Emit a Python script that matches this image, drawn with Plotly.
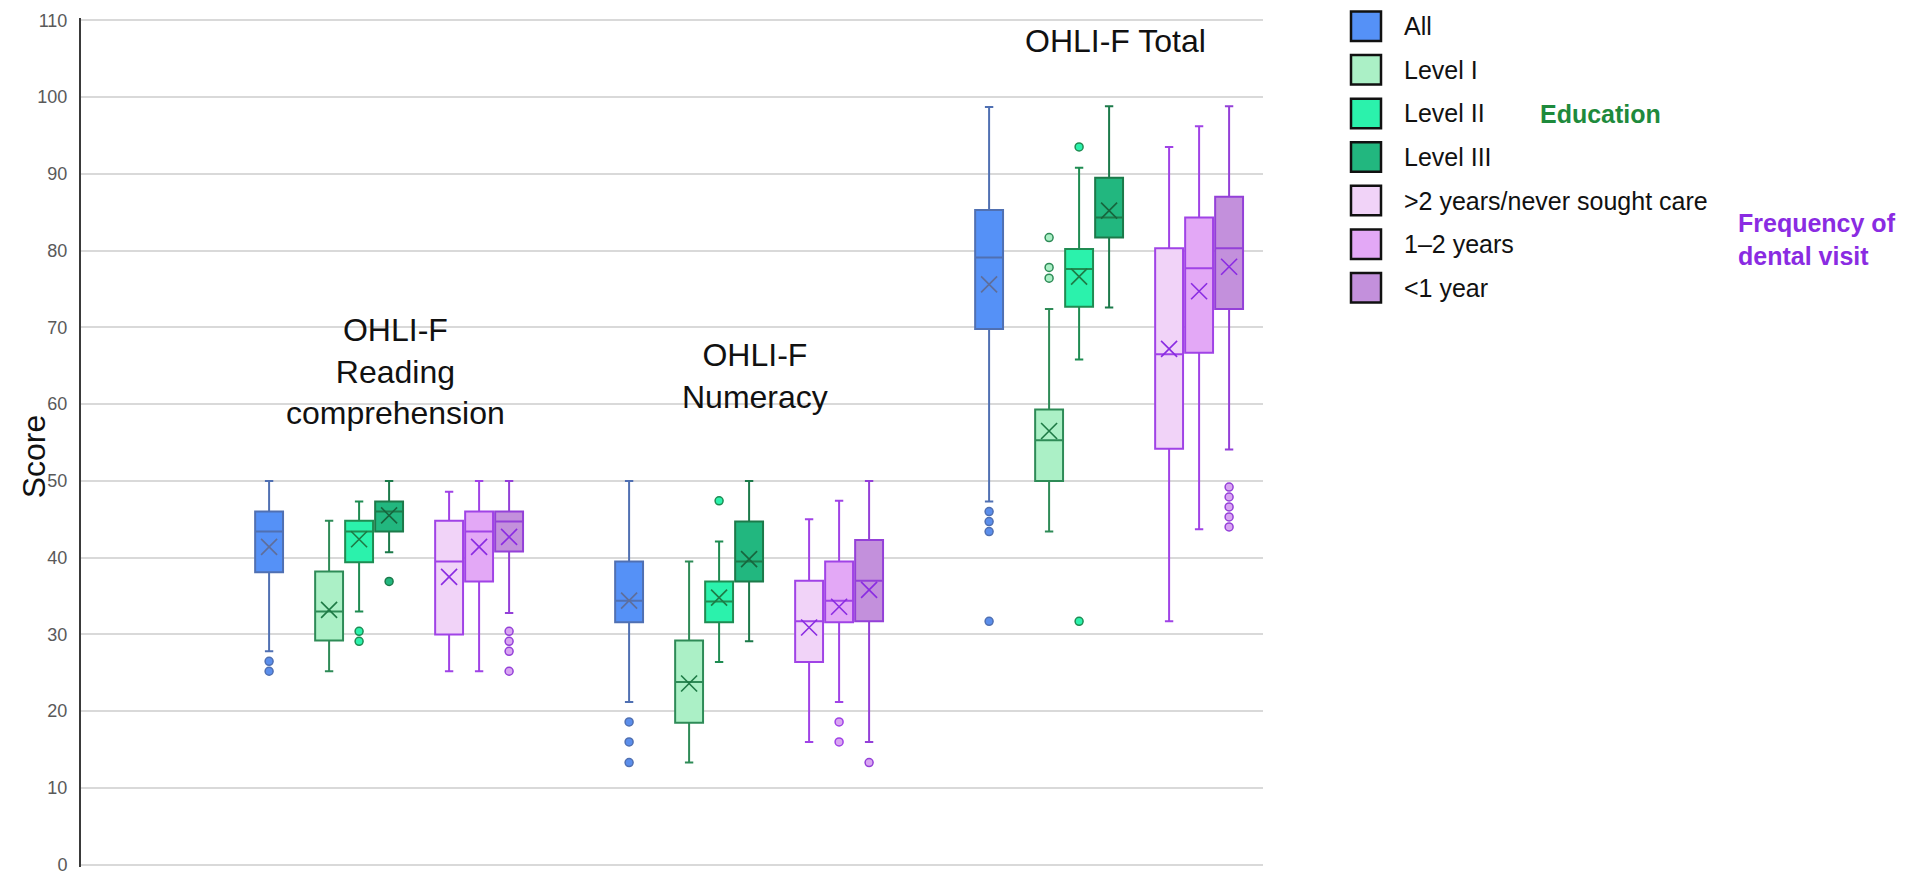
import plotly.graph_objects as go

# OHLI-F scores: three measures, seven groups (all / education / dental visit frequency)
measures = ["Reading comprehension", "Numeracy", "Total"]
titles = ["OHLI-F<br>Reading<br>comprehension", "OHLI-F<br>Numeracy", "OHLI-F Total"]

categories = ["All", "Level I", "Level II", "Level III",
              "&gt;2 years/never sought care", "1–2 years", "&lt;1 year"]

# one row per category, columns = reading, numeracy, total
lowerfence = [
    [27.8, 21.2, 47.3],
    [25.2, 13.3, 43.4],
    [33.0, 26.4, 65.8],
    [40.7, 29.1, 72.6],
    [25.2, 16.0, 31.7],
    [25.2, 21.2, 43.7],
    [32.8, 16.0, 54.1],
]
q1 = [
    [38.1, 31.6, 69.8],
    [29.2, 18.5, 50.0],
    [39.4, 31.6, 72.7],
    [43.4, 36.9, 81.7],
    [30.0, 26.4, 54.2],
    [36.9, 31.6, 66.7],
    [40.8, 31.7, 72.4],
]
median = [
    [43.4, 34.4, 79.1],
    [33.0, 23.8, 55.3],
    [43.4, 34.3, 77.6],
    [46.0, 39.5, 84.3],
    [39.5, 31.7, 66.5],
    [43.4, 34.4, 77.7],
    [44.7, 37.0, 80.3],
]
q3 = [
    [46.0, 39.5, 85.3],
    [38.2, 29.2, 59.3],
    [44.8, 36.9, 80.2],
    [47.3, 44.7, 89.5],
    [44.8, 37.0, 80.3],
    [46.0, 39.5, 84.3],
    [46.0, 42.3, 87.0],
]
upperfence = [
    [50.0, 50.0, 98.7],
    [44.8, 39.5, 72.4],
    [47.3, 42.1, 90.8],
    [50.0, 50.0, 98.8],
    [48.6, 45.0, 93.5],
    [50.0, 47.4, 96.2],
    [50.0, 50.0, 98.8],
]
means = [
    [41.4, 34.4, 75.6],
    [33.2, 23.6, 56.5],
    [42.4, 34.8, 76.6],
    [45.5, 39.8, 85.2],
    [37.5, 30.9, 67.2],
    [41.4, 33.6, 74.7],
    [42.7, 35.8, 77.9],
]
outliers = [
    [[26.5, 25.2], [18.6, 16.0, 13.3], [46.0, 44.7, 43.4, 31.7]],
    [[], [], [81.7, 77.8, 76.4]],
    [[30.4, 29.1], [47.4], [93.5, 31.7]],
    [[36.9], [], []],
    [[], [], []],
    [[], [18.6, 16.0], []],
    [[30.4, 29.1, 27.8, 25.2], [13.3], [49.2, 47.9, 46.6, 45.3, 44.0]],
]

y_ticks = list(range(0, 111, 10))

# styling
fill_colors = ["#5591F7", "#ABF0C6", "#2BF2AC", "#22B77F", "#F1D3F8", "#E3A8F6", "#C390DC"]
line_colors = ["#5070B2", "#2E8B57", "#1F8C52", "#1C7A4A", "#A043E6", "#A043E6", "#9440D8"]
mean_colors = ["#5F6E9A", "#1E7A45", "#1E7A45", "#17653D", "#8A2BE2", "#8A2BE2", "#8A2BE2"]
point_fill = ["#5B8EEB", "#ABF0C6", "#2BF2AC", "#22B77F", "#D9A6F2", "#D9A6F2", "#D9A6F2"]

GROUP_STEP = 12
SLOTS = [0, 2, 3, 4, 6, 7, 8]

# pixel frame of the plot area (figure is 1907 x 886); y range padded a bit
# so the 0 and 110 gridlines are drawn
Y_MIN, Y_MAX = -0.3, 110.3
PX_PER_UNIT = 7.8
PLOT_L, PLOT_R = 81, 1263
PLOT_T = 13 - (Y_MAX - 110) * PX_PER_UNIT
PLOT_B = 871 - Y_MIN * PX_PER_UNIT


def px_x(p):
    return (p - PLOT_L) / (PLOT_R - PLOT_L)


def px_y(p):
    return (PLOT_B - p) / (PLOT_B - PLOT_T)


fig = go.Figure()

for i, cat in enumerate(categories):
    xs = [g * GROUP_STEP + SLOTS[i] for g in range(len(measures))]
    fig.add_trace(go.Box(
        x=xs, q1=q1[i], median=median[i], q3=q3[i],
        lowerfence=lowerfence[i], upperfence=upperfence[i],
        name=cat, width=0.93, whiskerwidth=0.3,
        fillcolor=fill_colors[i], line=dict(color=line_colors[i], width=2),
        boxpoints=False, hoverinfo="skip", showlegend=False,
    ))
    fig.add_trace(go.Scatter(
        x=xs, y=means[i], mode="markers", showlegend=False, hoverinfo="skip",
        marker=dict(symbol="x-thin-open", size=16, color=mean_colors[i],
                    line=dict(width=1.6, color=mean_colors[i])),
    ))
    ox, oy = [], []
    for g in range(len(measures)):
        for v in outliers[i][g]:
            ox.append(xs[g])
            oy.append(v)
    if ox:
        fig.add_trace(go.Scatter(
            x=ox, y=oy, mode="markers", showlegend=False, hoverinfo="skip",
            marker=dict(symbol="circle", size=8, color=point_fill[i],
                        line=dict(width=1.5, color=line_colors[i])),
        ))

# group titles
title_y = [64.3, 63.6, 107.3]
for g, t in enumerate(titles):
    fig.add_annotation(x=g * GROUP_STEP + 4.2, y=title_y[g], xref="x", yref="y",
                       text=t, showarrow=False, xanchor="center", yanchor="middle",
                       font=dict(family="Liberation Sans, Arial", size=32, color="#111111"))

# hand-drawn legend on the right
for i, cat in enumerate(categories):
    top = 4 + i * 44.3
    fig.add_shape(type="rect", xref="paper", yref="paper",
                  x0=px_x(1351), x1=px_x(1381), y0=px_y(top + 30), y1=px_y(top),
                  fillcolor=fill_colors[i], line=dict(color="#111111", width=2.5))
    fig.add_annotation(x=px_x(1402), y=px_y(top + 15), xref="paper", yref="paper",
                       text=cat, showarrow=False, xanchor="left", yanchor="middle",
                       font=dict(family="Liberation Sans, Arial", size=25, color="#111111"))

fig.add_annotation(x=px_x(1538), y=px_y(108), xref="paper", yref="paper",
                   text="<b>Education</b>", showarrow=False, xanchor="left", yanchor="middle",
                   font=dict(family="Liberation Sans, Arial", size=25, color="#1E8A3C"))
fig.add_annotation(x=px_x(1736), y=px_y(236), xref="paper", yref="paper",
                   text="<b>Frequency of<br>dental visit</b>", showarrow=False,
                   xanchor="left", yanchor="middle", align="left",
                   font=dict(family="Liberation Sans, Arial", size=25, color="#8A2BE2"))

fig.add_annotation(x=px_x(34), y=px_y(456), xref="paper", yref="paper",
                   text="Score", textangle=-90, showarrow=False,
                   xanchor="center", yanchor="middle",
                   font=dict(family="Liberation Sans, Arial", size=32, color="#111111"))

fig.update_layout(
    width=1907, height=886,
    margin=dict(l=PLOT_L, r=1907 - PLOT_R, t=PLOT_T, b=886 - PLOT_B),
    plot_bgcolor="white", paper_bgcolor="white",
    showlegend=False,
    xaxis=dict(range=[-6.27, 33.13], showgrid=False, zeroline=False,
               showticklabels=False, showline=False, ticks=""),
    yaxis=dict(range=[Y_MIN, Y_MAX], tickvals=y_ticks, showgrid=True,
               gridcolor="#D9D9D9", gridwidth=2, zeroline=False,
               showline=True, linecolor="#3A3A3A", linewidth=2, ticks="",
               ticklabelstandoff=8,
               tickfont=dict(family="Liberation Sans Narrow, Liberation Sans, Arial",
                             size=18, color="#595959")),
)

# drop the browser's default body margin so the figure sits at the page origin
fig.write_html("out.html", config={"displayModeBar": False},
               post_script="document.body.style.margin='0';")
